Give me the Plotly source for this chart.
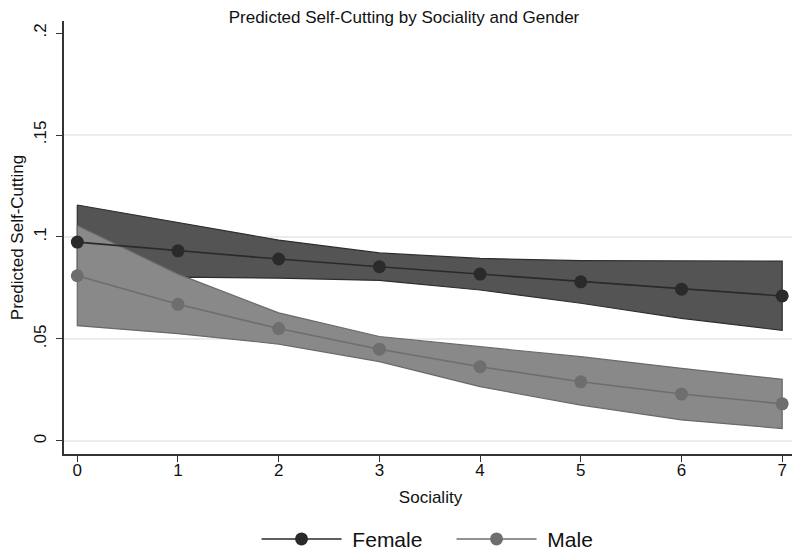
import plotly.graph_objects as go

sociality = [0, 1, 2, 3, 4, 5, 6, 7]
female = [0.0975, 0.0932, 0.0892, 0.0854, 0.0818, 0.0780, 0.0744, 0.0711]
female_hi = [0.1157, 0.1070, 0.0985, 0.0922, 0.0895, 0.0884, 0.0882, 0.0882]
female_lo = [0.0793, 0.0803, 0.0798, 0.0787, 0.0740, 0.0675, 0.0601, 0.0542]
male = [0.0810, 0.0670, 0.0551, 0.0450, 0.0364, 0.0290, 0.0230, 0.0182]
male_hi = [0.1056, 0.0818, 0.0628, 0.0512, 0.0462, 0.0413, 0.0356, 0.0302]
male_lo = [0.0565, 0.0526, 0.0475, 0.0389, 0.0266, 0.0176, 0.0103, 0.0061]
y_ticks = [0, 0.05, 0.1, 0.15, 0.2]
y_tick_labels = ["0", ".05", ".1", ".15", ".2"]
grid_vals = [0, 0.05, 0.1, 0.15]

FONT = "Liberation Sans, Arial, sans-serif"

fig = go.Figure()

def band(lo, hi, fill, edge):
    fig.add_trace(go.Scatter(
        x=sociality + sociality[::-1] + [sociality[0]],
        y=hi + lo[::-1] + [hi[0]],
        mode="lines", fill="toself", fillcolor=fill,
        line=dict(color=edge, width=1.2), showlegend=False, hoverinfo="skip"))

band(female_lo, female_hi, "#545454", "#2e2e2e")
band(male_lo, male_hi, "#898989", "#6a6a6a")

fig.add_trace(go.Scatter(
    x=sociality, y=female, mode="lines+markers", name="\u00a0Female",
    line=dict(color="#2a2a2a", width=1.6),
    marker=dict(color="#2a2a2a", size=13)))
fig.add_trace(go.Scatter(
    x=sociality, y=male, mode="lines+markers", name="\u00a0Male",
    line=dict(color="#6e6e6e", width=1.6),
    marker=dict(color="#6e6e6e", size=13)))

for g in grid_vals:
    fig.add_shape(type="line", xref="paper", yref="y", x0=0, x1=1, y0=g, y1=g,
                  line=dict(color="#e6e6e6", width=1.5), layer="below")

# the page body adds an 8px offset, so the figure is sized to fit the window
fig.update_layout(
    width=792, height=542,
    margin=dict(l=56, r=3, t=13, b=96, autoexpand=False),
    paper_bgcolor="white", plot_bgcolor="white",
    title=dict(text="Predicted Self-Cutting by Sociality and Gender",
               x=0.5, xref="container", xanchor="center", y=0.995, yanchor="top",
               pad=dict(t=0, b=0, l=0, r=0),
               font=dict(family=FONT, size=17, color="#111")),
    font=dict(family=FONT, color="#111"),
    xaxis=dict(range=[-0.132, 7.147], tickvals=sociality,
               ticks="outside", ticklen=6, tickcolor="#333",
               showline=True, linecolor="#333", linewidth=1.5,
               showgrid=False, zeroline=False, automargin=False,
               ticklabelstandoff=-6,
               tickfont=dict(size=17, family=FONT),
               title=dict(text="Sociality", font=dict(size=17, family=FONT), standoff=12)),
    yaxis=dict(range=[-0.0064, 0.2059], tickvals=y_ticks, ticktext=y_tick_labels,
               ticks="outside", ticklen=6, tickcolor="#333", tickangle=-90,
               showline=True, linecolor="#333", linewidth=1.5,
               showgrid=False, zeroline=False, automargin=False,
               ticklabelstandoff=3,
               tickfont=dict(size=17, family=FONT),
               title=dict(text="Predicted Self-Cutting", font=dict(size=17, family=FONT), standoff=12)),
    legend=dict(orientation="h", x=0.5287, xanchor="center", y=-0.197, yanchor="middle",
                font=dict(size=21, family=FONT), itemwidth=80, entrywidth=100,
                bgcolor="rgba(0,0,0,0)"),
    showlegend=True,
)

fig.write_html("out.html")
